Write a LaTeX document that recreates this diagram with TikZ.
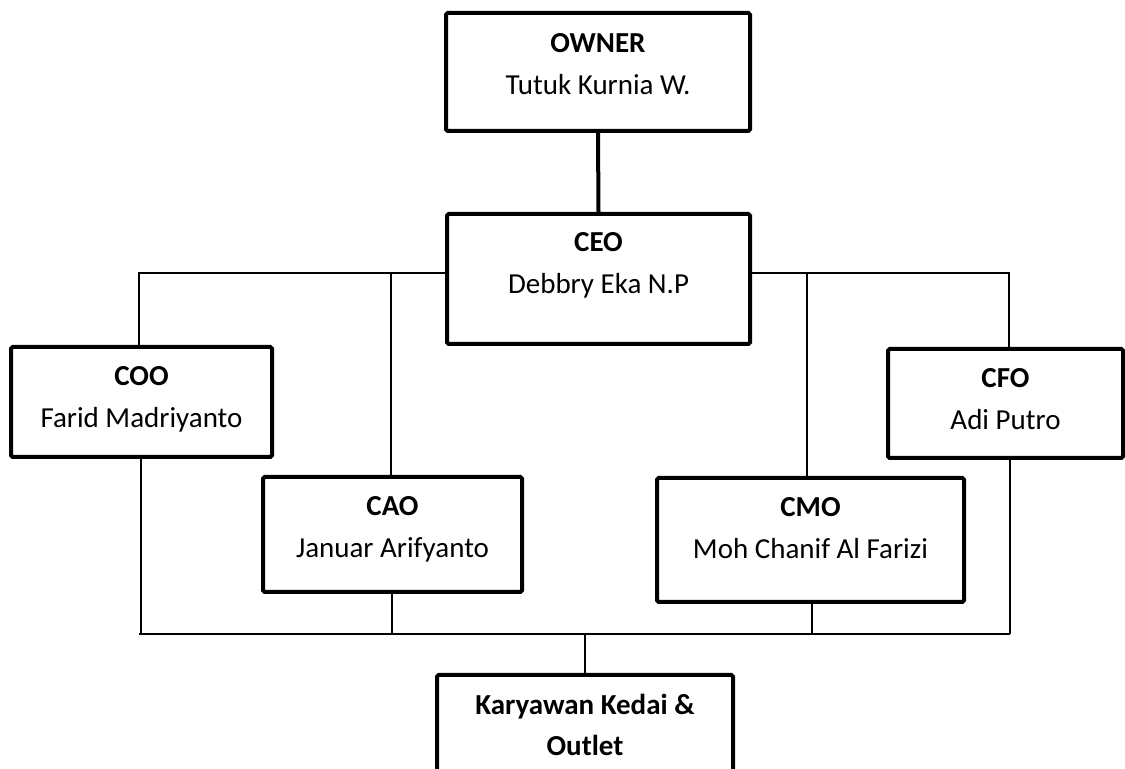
\documentclass[tikz,border=0pt]{standalone}
\usepackage{fontspec}
\setmainfont{Carlito}
\usetikzlibrary{fit}
\begin{document}
\begin{tikzpicture}[x=0.5pt,y=-0.5pt,
  box/.style={draw, line width=2pt, rounded corners=0.8pt, inner sep=0pt},
  link/.style={line width=0.8pt},
  mainlink/.style={line width=2pt},
  role/.style={inner sep=0pt, anchor=base, font=\fontsize{14.5}{21}\selectfont\bfseries},
  person/.style={inner sep=0pt, anchor=base, font=\fontsize{14.5}{21}\selectfont}]
  \useasboundingbox (0,0) rectangle (1125,769);
  \clip (0,0) rectangle (1125,769);

  % boxes
  \node[box, fit={(446,13) (750,131)}] (owner) {};
  \node[box, fit={(447,214) (750,344)}] (ceo) {};
  \node[box, fit={(11,347) (272,457)}] (coo) {};
  \node[box, fit={(888,349) (1123,458)}] (cfo) {};
  \node[box, fit={(263,477) (522,592)}] (cao) {};
  \node[box, fit={(657,478) (964,602)}] (cmo) {};
  \node[box, fit={(437,675) (733,840)}] (staff) {};

  % texts
  \node[role]   (owner-r) at ([yshift=-21pt]owner.north) {OWNER};
  \node[person] (owner-p) at ([yshift=-42pt]owner.north) {Tutuk Kurnia W.};
  \node[role]   (ceo-r) at ([yshift=-20pt]ceo.north) {CEO};
  \node[person] (ceo-p) at ([yshift=-41pt]ceo.north) {Debbry Eka N.P};
  \node[role]   (coo-r) at ([yshift=-20.5pt]coo.north) {COO};
  \node[person] (coo-p) at ([yshift=-41.5pt]coo.north) {Farid Madriyanto};
  \node[role]   (cfo-r) at ([yshift=-20.5pt]cfo.north) {CFO};
  \node[person] (cfo-p) at ([yshift=-41.5pt]cfo.north) {Adi Putro};
  \node[role]   (cao-r) at ([yshift=-20.5pt]cao.north) {CAO};
  \node[person] (cao-p) at ([yshift=-41.5pt]cao.north) {Januar Arifyanto};
  \node[role]   (cmo-r) at ([yshift=-20.5pt]cmo.north) {CMO};
  \node[person] (cmo-p) at ([yshift=-41.5pt]cmo.north) {Moh Chanif Al Farizi};
  \node[role]   (staff-r1) at ([yshift=-21pt]staff.north) {Karyawan Kedai \&};
  \node[role]   (staff-r2) at ([yshift=-41pt]staff.north) {Outlet};

  % bus coordinates
  \coordinate (topL) at (139,273);
  \coordinate (topR) at (1009,273);
  \coordinate (caoT) at (391,273);
  \coordinate (cmoT) at (807,273);
  \coordinate (botL) at (141,634);
  \coordinate (botR) at (1010,634);
  \coordinate (caoB) at (392,634);
  \coordinate (cmoB) at (812,634);
  \coordinate (staffB) at (585,634);

  % connectors
  \draw[mainlink] (owner.south) -- (ceo.north);
  \draw[link] (ceo.west |- topL) -- (topL) -- (topL |- coo.north);
  \draw[link] (ceo.east |- topR) -- (topR) -- (topR |- cfo.north);
  \draw[link] (caoT) -- (caoT |- cao.north);
  \draw[link] (cmoT) -- (cmoT |- cmo.north);
  \draw[link] (139,634) -- (botR);
  \draw[link] (botL |- coo.south) -- (botL);
  \draw[link] (caoB |- cao.south) -- (caoB);
  \draw[link] (cmoB |- cmo.south) -- (cmoB);
  \draw[link] (botR |- cfo.south) -- (botR);
  \draw[link] (staffB) -- (staffB |- staff.north);
\end{tikzpicture}
\end{document}
